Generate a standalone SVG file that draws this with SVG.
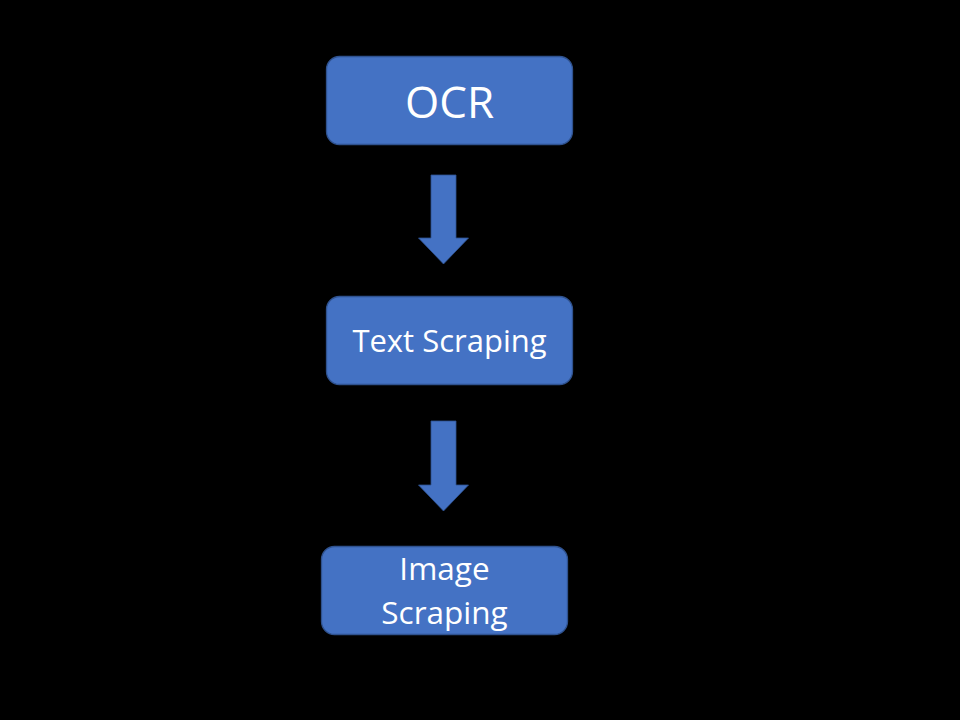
<svg xmlns="http://www.w3.org/2000/svg" width="960" height="720" viewBox="0 0 960 720">
<style>
.box{fill:#4472C4;stroke:#2F528F;stroke-width:1.3}
.lbl{fill:#fff;font-family:"Open Sans",Lato,sans-serif;text-anchor:middle}
.arr{fill:#4472C4;stroke:#2F528F;stroke-width:0.8}
</style>
<rect width="960" height="720" fill="#000"/>
<g id="connectors">
<path class="arr" d="M431,175 H456 V238 H468.5 L443.5,264 L418.5,238 H431 Z"/>
<path class="arr" d="M431,421 H456 V485 H468.5 L443.5,511 L418.5,485 H431 Z"/>
</g>
<g id="ocr">
<rect class="box" x="326.5" y="56.5" width="246" height="88" rx="13"/>
<text class="lbl" x="449.5" y="118" font-size="44">OCR</text>
</g>
<g id="text-scraping">
<rect class="box" x="326.5" y="296.5" width="246" height="88" rx="13"/>
<text class="lbl" x="449.5" y="352" font-size="31">Text Scraping</text>
</g>
<g id="image-scraping">
<rect class="box" x="321.5" y="546.5" width="246" height="88" rx="13"/>
<text class="lbl" x="444.5" y="580" font-size="31.5">Image</text>
<text class="lbl" x="444.5" y="624" font-size="31.5">Scraping</text>
</g>
</svg>
